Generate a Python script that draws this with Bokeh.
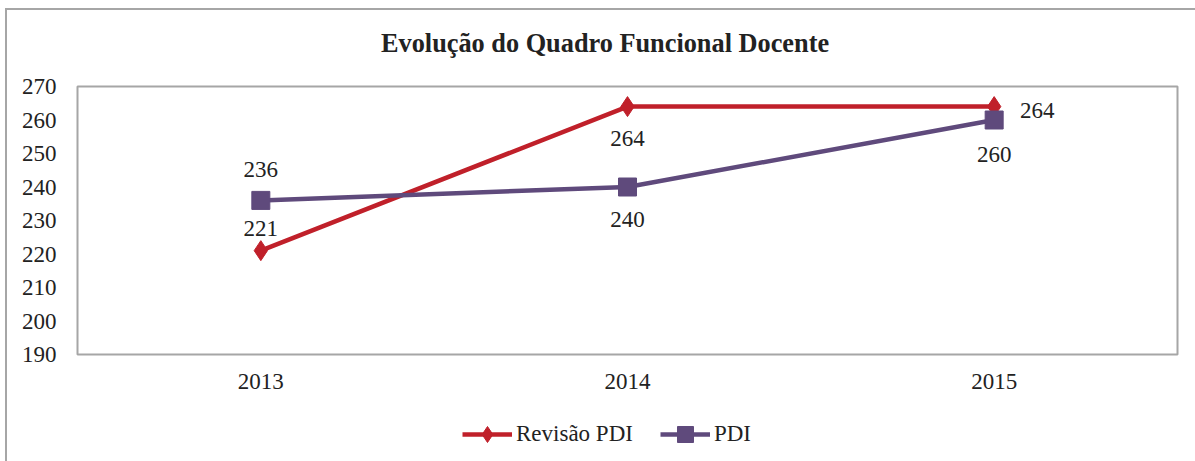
from bokeh.plotting import figure
from bokeh.models import ColumnDataSource, Legend, LegendItem, Div
from bokeh.layouts import column
from bokeh.core.properties import value
from bokeh.embed import file_html
from bokeh.resources import INLINE

years = ["2013", "2014", "2015"]
revisao = [221, 264, 264]
pdi = [236, 240, 260]
y_ticks = [190, 200, 210, 220, 230, 240, 250, 260, 270]
title_text = "Evolução do Quadro Funcional Docente"
series_names = ["Revisão PDI", "PDI"]

# label placement (screen pixel offsets)
rev_dx = [0, 0, 43]
rev_dy = [-22, 32, 4]
pdi_dx = [0, 0, 0]
pdi_dy = [-31, 32, 34]

RED = "#C0202A"
PURPLE = "#5F4A7C"
FONT = "Liberation Serif"
GRAY = "#a6a6a6"
TXT = "#222222"
W = 1186

title_div = Div(text=title_text, width=W, height=54,
                styles={"font-family": FONT, "font-size": "26.3px",
                        "font-weight": "bold", "color": TXT,
                        "line-height": "58px", "text-align": "left",
                        "text-indent": "369px", "white-space": "nowrap",
                        "overflow": "hidden"})

p = figure(x_range=years, y_range=(190, 270), width=W, height=335,
           output_backend="svg", toolbar_location=None,
           min_border_left=70, min_border_right=16, min_border_top=12,
           min_border_bottom=55)

p.xgrid.visible = False
p.ygrid.visible = False
p.outline_line_color = GRAY
p.outline_line_width = 2

for ax in (p.xaxis[0], p.yaxis[0]):
    ax.axis_line_color = None
    ax.major_tick_line_color = None
    ax.minor_tick_line_color = None
    ax.major_label_text_font = FONT
    ax.major_label_text_font_size = "23px"
    ax.major_label_text_color = TXT
p.yaxis.ticker = y_ticks
p.yaxis.major_label_standoff = 15
p.xaxis.major_label_standoff = 13

src_r = ColumnDataSource(dict(x=years, y=revisao, t=[str(v) for v in revisao],
                              dx=rev_dx, dy=rev_dy))
src_p = ColumnDataSource(dict(x=years, y=pdi, t=[str(v) for v in pdi],
                              dx=pdi_dx, dy=pdi_dy))

line_r = dict(line_color=RED, line_width=4.5)
line_p = dict(line_color=PURPLE, line_width=4.5)

p.line("x", "y", source=src_r, **line_r)
p.scatter("x", "y", source=src_r, marker="diamond", size=20, color=RED)
p.line("x", "y", source=src_p, **line_p)
p.scatter("x", "y", source=src_p, marker="square", size=18, color=PURPLE)

for src in (src_r, src_p):
    p.text("x", "y", text="t", source=src, x_offset="dx", y_offset="dy",
           text_font=value(FONT), text_font_size="23px", text_color=TXT,
           text_align="center", text_baseline="middle")

# legend strip below the chart (series drawn out of its view, only the keys show)
lf = figure(width=W, height=52, output_backend="svg", toolbar_location=None,
            x_range=years, y_range=(0, 1), min_border=0)
lf.axis.visible = False
lf.grid.visible = False
lf.outline_line_color = None
lr = lf.line("x", "y", source=src_r, **line_r)
mr = lf.scatter("x", "y", source=src_r, marker="diamond", color=RED)
lp = lf.line("x", "y", source=src_p, **line_p)
mp = lf.scatter("x", "y", source=src_p, marker="square", color=PURPLE)

legend = Legend(items=[LegendItem(label=series_names[0], renderers=[lr, mr]),
                       LegendItem(label=series_names[1], renderers=[lp, mp])],
                orientation="horizontal", location=(385, 7),
                label_text_font=FONT, label_text_font_size="23px",
                label_text_color=TXT, glyph_width=50, glyph_height=40,
                label_standoff=4, spacing=27, border_line_color=None,
                background_fill_alpha=0, margin=0, padding=2)
lf.add_layout(legend)

layout = column(title_div, p, lf, spacing=0,
                styles={"margin-left": "5px", "margin-top": "8px",
                        "border-top": f"2px solid {GRAY}",
                        "border-left": f"2px solid {GRAY}"})

open("out.html", "w").write(file_html(layout, INLINE))
